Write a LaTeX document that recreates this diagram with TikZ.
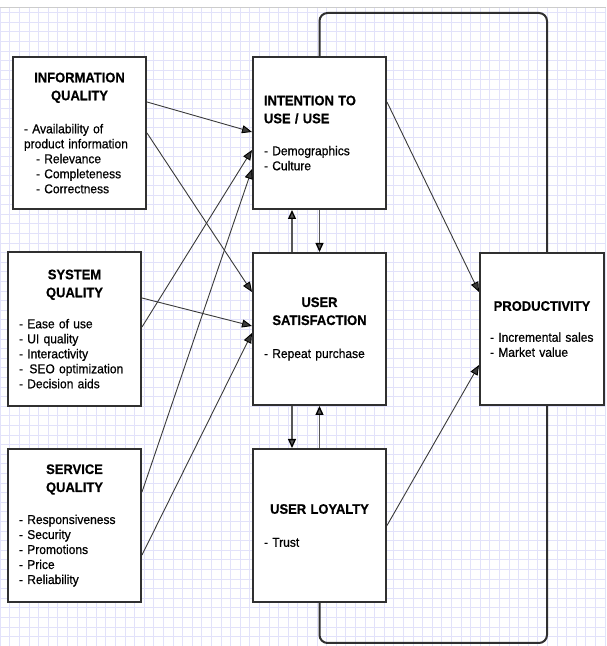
\documentclass[tikz,border=0pt]{standalone}
\usepackage{fontspec}
\setmainfont{Liberation Sans}
\newfontfamily\boxfont{Liberation Sans}[FakeBold=0.6,FakeStretch=0.94]
\usetikzlibrary{arrows.meta,calc}

\definecolor{boxgray}{HTML}{303030}
\definecolor{linegray}{HTML}{3A3A3A}
\definecolor{gridminor}{HTML}{E2E2FA}

\tikzset{
  box/.style={draw=boxgray, line width=2pt, fill=white, minimum height=152pt,
    text width=111pt, inner xsep=11pt, align=left, font=\boxfont\fontsize{12.8}{15}\selectfont},
  arr/.style={color=linegray, line width=0.9pt, -{Triangle[length=10pt,width=8pt,color=black]}},
  varr/.style={color=linegray!85, line width=1.3pt, -{Triangle[length=9pt,width=8pt,color=black]}},
  loopline/.style={draw=boxgray, line width=2pt, rounded corners=8pt}
}
\newcommand{\hd}[2][c]{\makebox[\hsize][#1]{\fontsize{13.8}{18}\selectfont\bfseries #2}}
\newcommand{\sub}{\hspace*{12pt}}

\begin{document}
\begin{tikzpicture}[x=1pt,y=1pt]
  \useasboundingbox (0,0) rectangle (606,646);
  \fill[white] (0,0) rectangle (606,646);
  \draw[gridminor, line width=0.5pt] (0,0) grid[step=9.6pt] (606,639);
  \draw[gray!40, line width=0.6pt] (0,639) -- (606,639);

  % factors
  \node[box] (info) at (79.5,513) {\hd{INFORMATION}\\[3pt]\hd{QUALITY}\\[18pt]- Availability of\\product information\\\sub- Relevance\\\sub- Completeness\\\sub- Correctness};
  \node[box, minimum height=154pt] (sys) at (74.5,317) {\hd{SYSTEM}\\[3pt]\hd{QUALITY}\\[16pt]- Ease of use\\- UI quality\\- Interactivity\\-\, SEO optimization\\- Decision aids};
  \node[box, minimum height=153pt] (serv) at (74.5,120.5) {\hd{SERVICE}\\[3pt]\hd{QUALITY}\\[17pt]- Responsiveness\\- Security\\- Promotions\\- Price\\- Reliability};

  \node[box] (intent) at (319.5,513) {\hd[l]{INTENTION TO}\\[3pt]\hd[l]{USE / USE}\\[17pt]- Demographics\\- Culture};
  \node[box] (sat) at (319.5,317) {\hd{USER}\\[3pt]\hd{SATISFACTION}\\[18pt]- Repeat purchase};
  \node[box, minimum height=153pt] (loyal) at (319.5,120.5) {\hd{USER LOYALTY}\\[18pt]- Trust};

  \node[box, text width=104pt, inner xsep=10pt] (prod) at (542,317) {\hd{PRODUCTIVITY}\\[16pt]- Incremental sales\\- Market value};

  % feedback loop
  \coordinate (loopT) at (547,633);
  \coordinate (loopB) at (547,3);
  \draw[loopline] (intent.north) |- (loopT) -- (loopT |- prod.north);
  \draw[loopline] (loyal.south) |- (loopB) -- (loopB |- prod.south);

  % paths
  \path[arr]
  ($(info.east)+(0,31)$) edge ($(intent.west)+(0,1)$)
  (info.east) edge ($(sat.west)+(0,37)$)
  ($(sys.east)+(0,31)$) edge ($(sat.west)+(0,3)$)
  ($(sys.east)+(0,2)$) edge ($(intent.west)+(0,-17)$)
  ($(serv.east)+(0,33.5)$) edge ($(intent.west)+(0,-36)$)
  ($(serv.east)+(0,-29.5)$) edge ($(sat.west)+(0,-4)$)
  ($(intent.east)+(0,31)$) edge ($(prod.west)+(0,37)$)
  (loyal.east) edge ($(prod.west)+(0,-36)$);

  \path[varr]
  ([xshift=-27.5pt]sat.north) edge ([xshift=-27.5pt]intent.south)
  (intent.south) edge (sat.north)
  ([xshift=-27.5pt]sat.south) edge ([xshift=-27.5pt]loyal.north)
  (loyal.north) edge (sat.south);
\end{tikzpicture}
\end{document}
